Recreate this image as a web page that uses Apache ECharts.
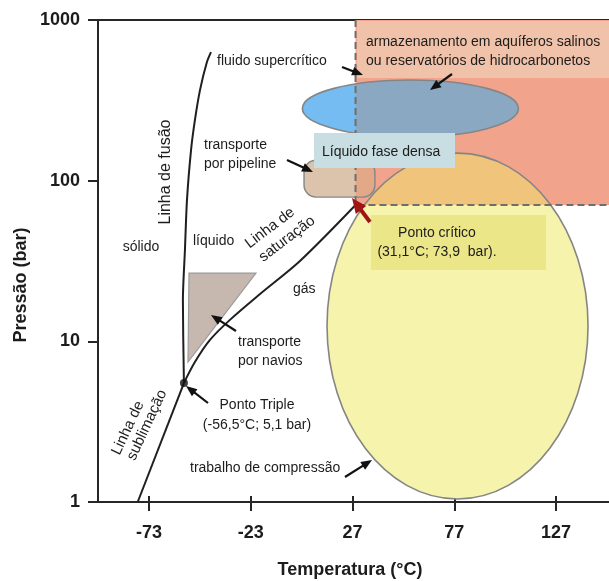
<!DOCTYPE html>
<html><head><meta charset="utf-8">
<script src="https://cdn.jsdelivr.net/npm/echarts@6/dist/echarts.min.js"></script>
<style>html,body{margin:0;padding:0;background:#fff}#c{width:609px;height:581px}</style>
</head><body><div id="c"></div>
<script>
// ---- data (temperature °C, pressure bar) ----
const tempTicks = [-73, -23, 27, 77, 127];
const pressureTicks = [1, 10, 100, 1000];
const tempRange = [-98, 153];
const pressureRange = [1, 1000];
const sublimationLine = [[-78.5, 1], [-55.8, 5.5]];
const meltingLine = [[-55.8, 5.5], [-56.3, 18.1], [-55.3, 37.0], [-54.3, 75.7], [-52.3, 155], [-50.4, 238], [-47.9, 366], [-44.5, 547], [-42.5, 631]];
const saturationLine = [[-55.8, 5.5], [-50.4, 7.43], [-43.0, 10.2], [-33.2, 13.6], [-18.4, 19.7], [1.2, 31.6], [28.5, 70.5]];
const triplePoint = [-55.8, 5.5];
const criticalPoint = [28.5, 70.5];
const storageRegion = [28.5, 70.5, 153, 1000];        // tMin, pMin, tMax, pMax
const supercriticalEllipse = [2.4, 187, 108.5, 423];   // bounding box
const compressionEllipse = [14.5, 1.044, 142.7, 148.5];
const pipelineRegion = [3.2, 79, 38.0, 134];
const shipTriangle = [[-53.3, 26.6], [-20.4, 26.6], [-53.8, 7.43]];

const FONT = "'Liberation Sans', Arial, Helvetica, sans-serif";
const INK = '#1c1c1c';
const EDGE = '#858585';

function boxPx(api, b) {
  const a = api.coord([b[0], b[3]]), c = api.coord([b[2], b[1]]);
  return [a[0], a[1], c[0], c[1]];
}
function ellipseOf(r) {
  return { cx: (r[0] + r[2]) / 2, cy: (r[1] + r[3]) / 2, rx: (r[2] - r[0]) / 2, ry: (r[3] - r[1]) / 2 };
}
function ellipsePts(e, n) {
  const pts = [];
  for (let i = 0; i < n; i++) {
    const a = (i / n) * Math.PI * 2;
    pts.push([e.cx + e.rx * Math.cos(a), e.cy + e.ry * Math.sin(a)]);
  }
  return pts;
}
function roundRectPts(r, rad) {
  const pts = [];
  const corners = [[r[2] - rad, r[1] + rad, -90], [r[2] - rad, r[3] - rad, 0], [r[0] + rad, r[3] - rad, 90], [r[0] + rad, r[1] + rad, 180]];
  corners.forEach(c => {
    for (let k = 0; k <= 8; k++) {
      const a = (c[2] + k * 90 / 8) * Math.PI / 180;
      pts.push([c[0] + rad * Math.cos(a), c[1] + rad * Math.sin(a)]);
    }
  });
  return pts;
}
function clipHalf(pts, i, v, s) {
  const out = [];
  for (let k = 0; k < pts.length; k++) {
    const a = pts[k], b = pts[(k + 1) % pts.length];
    const ina = s * (a[i] - v) >= 0, inb = s * (b[i] - v) >= 0;
    if (ina) out.push(a);
    if (ina !== inb) {
      const t = (v - a[i]) / (b[i] - a[i]);
      out.push([a[0] + t * (b[0] - a[0]), a[1] + t * (b[1] - a[1])]);
    }
  }
  return out;
}
function clipRect(pts, r) {
  let p = clipHalf(pts, 0, r[0], 1);
  p = clipHalf(p, 0, r[2], -1);
  p = clipHalf(p, 1, r[1], 1);
  p = clipHalf(p, 1, r[3], -1);
  return p;
}

function renderStorage(params, api) {
  const r = boxPx(api, storageRegion);
  return { type: 'rect', shape: { x: r[0], y: r[1], width: r[2] - r[0], height: r[3] - r[1] }, style: { fill: '#f1a48b' } };
}
function renderEllipse(box, fill, overFill) {
  return function (params, api) {
    const e = ellipseOf(boxPx(api, box));
    const s = boxPx(api, storageRegion);
    const over = clipRect(ellipsePts(e, 160), s);
    const children = [{ type: 'ellipse', shape: e, style: { fill: fill } }];
    if (over.length > 2) children.push({ type: 'polygon', shape: { points: over }, style: { fill: overFill } });
    children.push({ type: 'ellipse', shape: e, style: { fill: null, stroke: EDGE, lineWidth: 1.6 } });
    return { type: 'group', children: children };
  };
}
function renderPipeline(params, api) {
  const r = boxPx(api, pipelineRegion);
  const s = boxPx(api, storageRegion);
  const rad = 12;
  const over = clipRect(roundRectPts(r, rad), s);
  const shape = { x: r[0], y: r[1], width: r[2] - r[0], height: r[3] - r[1], r: rad };
  const children = [{ type: 'rect', shape: shape, style: { fill: '#dcc3ab' } }];
  if (over.length > 2) children.push({ type: 'polygon', shape: { points: over }, style: { fill: '#e2a888' } });
  children.push({ type: 'rect', shape: shape, style: { fill: null, stroke: EDGE, lineWidth: 1.4 } });
  return { type: 'group', children: children };
}
function renderTriangle(params, api) {
  return { type: 'polygon', shape: { points: shipTriangle.map(p => api.coord(p)) }, style: { fill: '#c6b7af', stroke: '#9a9a9a', lineWidth: 1.2 } };
}

// ---- annotations (pixel layout) ----
function txt(x, y, s, o) {
  o = o || {};
  const al = o.align || 'left';
  return {
    type: 'text', x: x, y: y, rotation: o.rot || 0, z: 80,
    style: {
      text: s, font: (o.weight || 'normal') + ' ' + (o.size || 14) + 'px ' + FONT, fill: o.color || INK,
      align: al, verticalAlign: 'middle', textAlign: al, textVerticalAlign: 'middle'
    }
  };
}
function box(x, y, w, h, fill) {
  return { type: 'rect', z: 70, shape: { x: x, y: y, width: w, height: h }, style: { fill: fill } };
}
function arrow(x1, y1, x2, y2, color, w, hl, hw) {
  const dx = x2 - x1, dy = y2 - y1, L = Math.hypot(dx, dy), ux = dx / L, uy = dy / L;
  const bx = x2 - ux * hl, by = y2 - uy * hl, px = -uy, py = ux;
  return [
    { type: 'line', z: 90, shape: { x1: x1, y1: y1, x2: bx + ux, y2: by + uy }, style: { stroke: color, lineWidth: w } },
    { type: 'polygon', z: 90, shape: { points: [[x2, y2], [bx + px * hw / 2, by + py * hw / 2], [bx - px * hw / 2, by - py * hw / 2]] }, style: { fill: color } }
  ];
}
const DEG = Math.PI / 180;
const graphics = [].concat(
  [box(357, 21, 252, 57, '#f0c2aa'), box(314, 133, 141, 35, '#c9dee2'), box(371, 215, 175, 55, '#ebe688')],
  [
    txt(366, 42, 'armazenamento em aquíferos salinos'),
    txt(366, 61, 'ou reservatórios de hidrocarbonetos'),
    txt(217, 61, 'fluido supercrítico'),
    txt(322, 152, 'Líquido fase densa'),
    txt(204, 145, 'transporte'),
    txt(204, 164, 'por pipeline'),
    txt(141, 247, 'sólido', { align: 'center' }),
    txt(193, 241, 'líquido'),
    txt(293, 289, 'gás'),
    txt(238, 342, 'transporte'),
    txt(238, 361, 'por navios'),
    txt(257, 405, 'Ponto Triple', { align: 'center' }),
    txt(257, 425, '(-56,5°C; 5,1 bar)', { align: 'center' }),
    txt(190, 468, 'trabalho de compressão'),
    txt(437, 233, 'Ponto crítico', { align: 'center' }),
    txt(437, 252, '(31,1°C; 73,9  bar).', { align: 'center' }),
    txt(166, 172, 'Linha de fusão', { align: 'center', rot: 90 * DEG, size: 16 }),
    txt(270, 228, 'Linha de', { align: 'center', rot: 37 * DEG, size: 15 }),
    txt(287, 239, 'saturação', { align: 'center', rot: 37 * DEG, size: 15 }),
    txt(128, 428, 'Linha de', { align: 'center', rot: 65 * DEG, size: 15 }),
    txt(147, 425, 'sublimação', { align: 'center', rot: 65 * DEG, size: 15 }),
    txt(350, 570, 'Temperatura (°C)', { align: 'center', weight: 'bold', size: 18 }),
    txt(21, 285, 'Pressão (bar)', { align: 'center', weight: 'bold', size: 18, rot: 90 * DEG })
  ],
  arrow(342, 67, 363, 75, '#111', 2.2, 11, 9),
  arrow(452, 74, 430, 90, '#111', 2.2, 11, 9),
  arrow(287, 160, 313, 172, '#111', 2.2, 11, 9),
  arrow(236, 331, 211, 315, '#111', 2.2, 11, 9),
  arrow(208, 403, 186, 386, '#111', 2.2, 11, 9),
  arrow(345, 477, 372, 460, '#111', 2.2, 11, 9),
  arrow(370, 222, 352, 198, '#a01414', 4, 15, 13)
);

const axisColor = '#262626';
const labelStyle = { fontSize: 18, fontWeight: 'bold', color: INK, fontFamily: FONT };
const chart = echarts.init(document.getElementById('c'), null, { renderer: 'canvas' });
chart.setOption({
  animation: false,
  backgroundColor: '#fff',
  grid: { left: 98, right: 0, top: 20, bottom: 79, containLabel: false },
  xAxis: [
    {
      type: 'value', min: tempRange[0], max: tempRange[1], position: 'bottom',
      axisLine: { show: true, onZero: false, lineStyle: { color: axisColor, width: 2 } },
      axisTick: { show: true, customValues: tempTicks, length: 9, lineStyle: { color: axisColor, width: 2 } },
      axisLabel: Object.assign({ customValues: tempTicks, margin: 22 }, labelStyle),
      splitLine: { show: false }
    },
    {
      type: 'value', min: tempRange[0], max: tempRange[1], position: 'bottom',
      axisLine: { show: false, onZero: false },
      axisTick: { show: true, inside: true, customValues: tempTicks, length: 6, lineStyle: { color: axisColor, width: 2 } },
      axisLabel: { show: false }, splitLine: { show: false }
    },
    {
      type: 'value', min: tempRange[0], max: tempRange[1], position: 'top',
      axisLine: { show: true, onZero: false, lineStyle: { color: axisColor, width: 2 } },
      axisTick: { show: false }, axisLabel: { show: false }, splitLine: { show: false }
    }
  ],
  yAxis: {
    type: 'log', logBase: 10, min: pressureRange[0], max: pressureRange[1],
    axisLine: { show: true, onZero: false, lineStyle: { color: axisColor, width: 2 } },
    axisTick: { show: true, customValues: pressureTicks, length: 10, lineStyle: { color: axisColor, width: 2 } },
    axisLabel: Object.assign({ margin: 18, customValues: pressureTicks, formatter: v => String(Math.round(v)) }, labelStyle),
    splitLine: { show: false }, minorTick: { show: false }
  },
  graphic: graphics,
  series: [
    { type: 'custom', z: 1, silent: true, data: [criticalPoint], renderItem: renderStorage },
    { type: 'custom', z: 2, silent: true, data: [criticalPoint], renderItem: renderEllipse(compressionEllipse, '#f6f3ad', '#f0c47a') },
    { type: 'custom', z: 3, silent: true, data: [criticalPoint], renderItem: renderEllipse(supercriticalEllipse, '#74bcf1', '#8ba8c2') },
    { type: 'custom', z: 4, silent: true, data: [criticalPoint], renderItem: renderPipeline },
    {
      type: 'line', z: 5, silent: true, symbol: 'none',
      data: [[storageRegion[0], storageRegion[3]], criticalPoint, [storageRegion[2], storageRegion[1]]],
      lineStyle: { color: '#6e6e6e', width: 2, type: [7, 4] }
    },
    { type: 'custom', z: 6, silent: true, data: [criticalPoint], renderItem: renderTriangle },
    { type: 'line', z: 7, silent: true, symbol: 'none', data: sublimationLine, lineStyle: { color: '#1f1f1f', width: 2 } },
    { type: 'line', z: 7, silent: true, symbol: 'none', smooth: 0.25, data: meltingLine, lineStyle: { color: '#1f1f1f', width: 2 } },
    { type: 'line', z: 7, silent: true, symbol: 'none', smooth: 0.3, data: saturationLine, lineStyle: { color: '#1f1f1f', width: 2 } },
    { type: 'scatter', z: 8, silent: true, symbolSize: 8, data: [triplePoint], itemStyle: { color: '#111' } }
  ]
});
</script>
</body></html>
